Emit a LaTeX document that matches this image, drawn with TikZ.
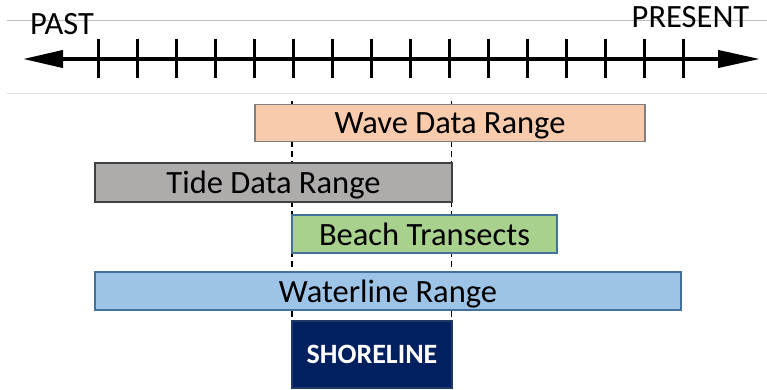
\documentclass[tikz,border=0pt]{standalone}
\usepackage{fontspec}
\setmainfont{Carlito}
\usetikzlibrary{arrows.meta}
\definecolor{wavefill}{HTML}{F8CBAD}
\definecolor{waveline}{HTML}{7F7F7F}
\definecolor{tidefill}{HTML}{AEABAB}
\definecolor{tideline}{HTML}{404040}
\definecolor{beachfill}{HTML}{A9D18E}
\definecolor{blueline}{HTML}{41719C}
\definecolor{waterfill}{HTML}{9DC3E6}
\definecolor{shorefill}{HTML}{002060}
\definecolor{shoreline}{HTML}{1F3864}
\definecolor{rule1}{HTML}{BFBFBF}
\definecolor{rule2}{HTML}{E0E0E0}
\tikzset{
  rangebox/.style={draw, line width=1.5pt, inner sep=0pt, text height=22pt, text depth=0pt,
    font=\fontsize{32.5}{36}\selectfont},
  axislabel/.style={anchor=base, inner sep=0pt, font=\fontsize{32.5}{36}\selectfont},
  tickmark/.style={line width=3pt},
  guide/.style={line width=1.2pt, dash pattern=on 6pt off 4pt},
}
\begin{document}
\begin{tikzpicture}[x=1pt,y=-1pt]
\useasboundingbox (0,0) rectangle (767,390);
% faint rules
\coordinate (r1a) at (7,21); \coordinate (r1b) at (767,21);
\coordinate (r2a) at (7,94); \coordinate (r2b) at (767,94);
\draw[rule1, line width=1pt] (r1a) -- (r1b);
\draw[rule2, line width=1pt] (r2a) -- (r2b);
% labels
\node[axislabel] (past) at (62,35) {PAST};
\node[axislabel] (present) at (690.5,28) {PRESENT};
% axis
\coordinate (al) at (23,59);
\coordinate (ar) at (760,59);
\draw[line width=4pt, {Triangle[length=40pt,width=17pt]}-{Triangle[length=42pt,width=17pt]}] (al) -- (ar);
\foreach \k in {0,...,15} {
  \draw[tickmark] (98+39*\k,39) -- (98+39*\k,78);
}
% dashed guides
\coordinate (g1a) at (292,101); \coordinate (g1b) at (292,388);
\coordinate (g2a) at (451.5,101); \coordinate (g2b) at (451.5,388);
\draw[guide] (g1a) -- (g1b);
\draw[guide] (g2a) -- (g2b);
% boxes
\node[rangebox, fill=wavefill, draw=waveline, minimum width=390pt, minimum height=37pt] (wave) at (450,123) {Wave Data Range};
\node[rangebox, fill=tidefill, draw=tideline, minimum width=357pt, minimum height=39pt] (tide) at (273.5,182.5) {Tide Data Range};
\node[rangebox, fill=beachfill, draw=blueline, minimum width=265pt, minimum height=38pt] (beach) at (424.5,234) {Beach Transects};
\node[rangebox, fill=waterfill, draw=blueline, minimum width=586pt, minimum height=38pt] (water) at (388,291) {Waterline Range};
\node[draw=shoreline, fill=shorefill, line width=1.5pt, inner sep=0pt, minimum width=160pt, minimum height=67pt,
  text=white, text height=18pt, text depth=0pt, font=\fontsize{28}{32}\selectfont\bfseries] (shore) at (372,354.5) {SHORELINE};
\end{tikzpicture}
\end{document}
